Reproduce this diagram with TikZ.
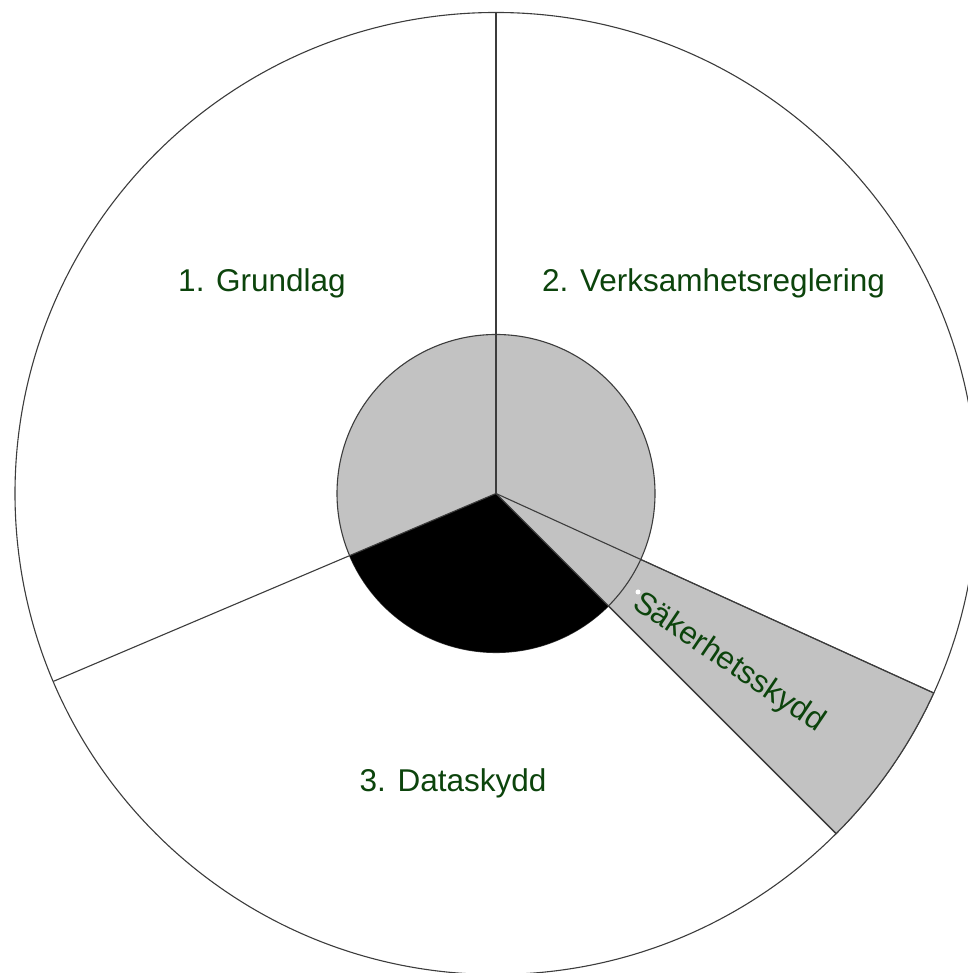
\documentclass[tikz,border=0pt]{standalone}
\usepackage{fontspec}
\setmainfont{Liberation Sans}
\definecolor{txtgreen}{RGB}{12,68,12}
\definecolor{silvergrey}{RGB}{194,194,194}
\definecolor{edgegrey}{RGB}{60,60,60}
\begin{document}
\begin{tikzpicture}[x=1pt,y=1pt,
  edge/.style={draw=edgegrey,line width=1.1pt},
  lbl/.style={text=txtgreen,font=\fontsize{31.5}{36}\selectfont,inner sep=0pt}]
\useasboundingbox (0,0) rectangle (967,973);
\coordinate (c) at (496,479.5);
% outer disc
\path[edge,fill=white] (c) circle[radius=481];
% security wedge
\path[edge,fill=silvergrey] (c) -- ++(-45:481) arc[start angle=-45,end angle=-24.5,radius=481] -- cycle;
% inner disc
\path[edge,fill=silvergrey] (c) circle[radius=159];
% black sector
\fill[black] (c) -- ++(203:159) arc[start angle=203,end angle=315,radius=159] -- cycle;
% dividers
\draw[edge] (c) -- ++(90:481);
\draw[edge] (c) -- ++(203:481);
\draw[edge] (c) -- ++(-24.5:481);
\draw[edge] (c) -- ++(-45:481);
% labels
\node[lbl,anchor=base] (grund) at (262,681) {1. Grundlag};
\node[lbl,anchor=base] (verk) at (713.5,681) {2. Verksamhetsreglering};
\node[lbl,anchor=base] (data) at (453,181) {3. Dataskydd};
\coordinate (dot) at (638,381);
\fill[white] (dot) circle[radius=2.5];
\node[lbl,anchor=base west,rotate=-34] (sak) at (631,366) {Säkerhetsskydd};
\end{tikzpicture}
\end{document}
